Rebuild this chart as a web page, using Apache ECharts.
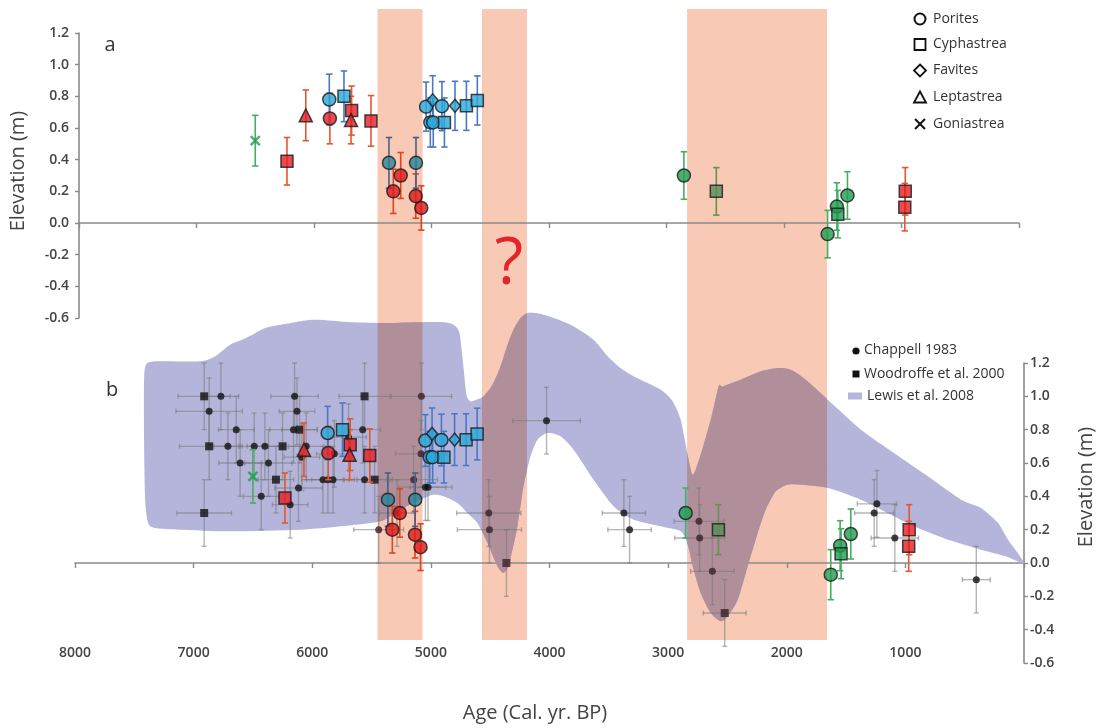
<!DOCTYPE html>
<html>
<head>
<meta charset="utf-8">
<script src="https://cdn.jsdelivr.net/npm/echarts@6/dist/echarts.min.js"></script>
<style>
  html, body { margin: 0; padding: 0; background: #ffffff; }
  #chart { width: 1099px; height: 728px; }
</style>
</head>
<body>
<div id="chart"></div>
<script>
// ---------- axis ticks ----------
const ageTicks = [8000, 7000, 6000, 5000, 4000, 3000, 2000, 1000, 0];
const elevTicks = [-0.6, -0.4, -0.2, 0.0, 0.2, 0.4, 0.6, 0.8, 1.0, 1.2];

// ---------- fossil coral microatolls (this study) ----------
const coralAge  = [6230, 6070, 5865, 5680, 5685, 5515, 5325, 5262, 5134, 5087, 968, 972,
                   5870, 5745, 5362, 5132, 5046, 4990, 5010, 4985, 4911, 4890, 4800, 4703, 4610,
                   6500, 2852, 1629, 1550, 1542, 1460,
                   2576];
const coralElev = [0.39, 0.68, 0.66, 0.71, 0.65, 0.645, 0.20, 0.30, 0.17, 0.095, 0.20, 0.10,
                   0.78, 0.80, 0.38, 0.38, 0.735, 0.775, 0.635, 0.635, 0.738, 0.635, 0.74, 0.74, 0.774,
                   0.52, 0.30, -0.07, 0.104, 0.056, 0.174,
                   0.20];
const coralErr  = [0.15, 0.16, 0.16, 0.155, 0.15, 0.16, 0.14, 0.145, 0.14, 0.14, 0.15, 0.15,
                   0.16, 0.16, 0.16, 0.16, 0.155, 0.155, 0.155, 0.155, 0.155, 0.155, 0.155, 0.155, 0.155,
                   0.16, 0.15, 0.15, 0.15, 0.15, 0.15,
                   0.15];
const coralGenus = ['Cyphastrea', 'Leptastrea', 'Porites', 'Cyphastrea', 'Leptastrea', 'Cyphastrea',
                    'Porites', 'Porites', 'Porites', 'Porites', 'Cyphastrea', 'Cyphastrea',
                    'Porites', 'Cyphastrea', 'Porites', 'Porites', 'Porites', 'Favites', 'Porites',
                    'Porites', 'Porites', 'Cyphastrea', 'Favites', 'Cyphastrea', 'Cyphastrea',
                    'Goniastrea', 'Porites', 'Porites', 'Porites', 'Cyphastrea', 'Porites',
                    'Cyphastrea'];
const coralGroup = [1, 1, 1, 1, 1, 1, 1, 1, 1, 1, 1, 1,
                    2, 2, 2, 2, 2, 2, 2, 2, 2, 2, 2, 2, 2,
                    3, 3, 3, 3, 3, 3,
                    4];

// ---------- Chappell 1983 ----------
const chAge = [6770, 6869, 6641, 6711, 6608, 6489, 6399, 6369, 6430, 6149, 6129, 6158, 6087, 6051,
               6116, 6186, 5910, 5868, 5825, 5814, 5694, 5575, 5559, 5440, 5285, 5145, 5080, 5083,
               5046, 5024, 4025, 4512, 4506, 3373, 3325, 2740, 2734, 2627, 1263, 1240, 1089, 402];
const chElev = [1.00, 0.91, 0.80, 0.70, 0.60, 0.70, 0.70, 0.60, 0.40, 1.00, 0.91, 0.80, 0.635, 0.70,
                0.45, 0.35, 0.50, 0.50, 0.50, 0.655, 0.755, 0.80, 0.50, 0.20, 0.30, 0.50, 1.00, 0.655,
                0.455, 0.455, 0.854, 0.30, 0.20, 0.30, 0.20, 0.25, 0.15, -0.05, 0.30, 0.355, 0.15, -0.10];
const chAgeErr = [150, 280, 150, 120, 180, 120, 150, 200, 150, 200, 150, 200, 150, 150,
                  200, 150, 180, 180, 180, 150, 150, 150, 180, 210, 150, 200, 255, 215,
                  225, 150, 285, 270, 270, 183, 183, 210, 210, 183, 165, 165, 200, 117];
const chElevErr = [0.2, 0.2, 0.2, 0.2, 0.2, 0.2, 0.2, 0.2, 0.2, 0.2, 0.2, 0.2, 0.2, 0.2,
                   0.2, 0.2, 0.2, 0.2, 0.2, 0.2, 0.2, 0.2, 0.2, 0.2, 0.2, 0.2, 0.2, 0.2,
                   0.2, 0.2, 0.2, 0.2, 0.2, 0.2, 0.2, 0.2, 0.2, 0.2, 0.2, 0.2, 0.2, 0.2];

// ---------- Woodroffe et al. 2000 ----------
const wdAge = [6911, 6869, 6911, 6306, 6250, 6107, 5559, 5474, 4363, 2523];
const wdElev = [1.00, 0.70, 0.30, 0.50, 0.70, 0.80, 1.00, 0.50, 0.00, -0.30];
const wdAgeErr = [220, 250, 230, 150, 150, 150, 215, 150, 0, 180];
const wdElevErr = [0.2, 0.2, 0.2, 0.2, 0.2, 0.2, 0.2, 0.2, 0.2, 0.2];

// ---------- Lewis et al. 2008 sea-level envelope ----------
const envUpperAge = [7384, 7409, 7418, 7418, 7401, 7325, 6945, 6818, 6692, 6557, 6397, 6262, 6101,
                     5966, 5671, 5375, 5089, 4894, 4810, 4759, 4726, 4700, 4667, 4616, 4557, 4481,
                     4413, 4354, 4304, 4245, 4186, 4118, 4051, 3924, 3797, 3629, 3510, 3401, 3291,
                     3063, 2962, 2894, 2844, 2793, 2726, 2641, 2574, 2540, 2388, 2219, 2076, 1966,
                     1840, 1654, 1375, 1097, 810, 530, 363, 219, 135, 0];
const envUpperElev = [0.24, 0.38, 0.74, 1.10, 1.19, 1.21, 1.21, 1.24, 1.31, 1.35, 1.41, 1.43, 1.45,
                      1.46, 1.445, 1.44, 1.445, 1.445, 1.43, 1.38, 1.18, 1.01, 0.97, 0.98, 1.00, 1.07,
                      1.18, 1.31, 1.40, 1.47, 1.50, 1.50, 1.49, 1.46, 1.42, 1.34, 1.24, 1.17, 1.12,
                      1.04, 0.97, 0.86, 0.68, 0.53, 0.65, 0.86, 1.06, 1.06, 1.10, 1.15, 1.17, 1.16,
                      1.10, 0.98, 0.80, 0.66, 0.52, 0.38, 0.33, 0.24, 0.14, 0.0];
const envLowerAge = [152, 363, 641, 928, 1097, 1375, 1654, 1882, 1992, 2093, 2177, 2245, 2329, 2413,
                     2498, 2557, 2641, 2726, 2793, 2835, 2894, 3063, 3291, 3460, 3629, 3797, 3907,
                     4017, 4101, 4160, 4219, 4270, 4312, 4346, 4388, 4439, 4523, 4608, 4692, 4776,
                     4894, 4979, 5089, 5257, 5426, 5764, 6101, 6692, 7114, 7325];
const envLowerElev = [0.04, 0.08, 0.14, 0.22, 0.28, 0.38, 0.45, 0.47, 0.47, 0.43, 0.32, 0.18, -0.02, -0.22,
                      -0.32, -0.35, -0.30, -0.18, -0.02, 0.11, 0.19, 0.22, 0.26, 0.34, 0.50, 0.68, 0.76,
                      0.78, 0.74, 0.64, 0.46, 0.22, 0.08, -0.02, -0.06, -0.02, 0.12, 0.24, 0.30, 0.36,
                      0.40, 0.41, 0.38, 0.32, 0.25, 0.22, 0.20, 0.19, 0.20, 0.21];

// ---------- shaded intervals ----------
const bandStart = [5450, 4570, 2840];
const bandEnd   = [5070, 4190, 1660];

// ---------- legend entries ----------
const genusNames = ['Porites', 'Cyphastrea', 'Favites', 'Leptastrea', 'Goniastrea'];
const recordNames = ['Chappell 1983', 'Woodroffe et al. 2000', 'Lewis et al. 2008'];

// ---------- styling ----------
const AXIS = '#8a8a8a';
const TXT = '#444444';
const FONT = "'Open Sans', 'Liberation Sans', sans-serif";
const BAND = '#f8c9b4';
const ENVELOPE = '#b5b5dc';
const groupFill = { 1: '#e31e24', 2: '#2aa7d9', 3: '#1f9c50', 4: '#5cb27f' };
const groupBar  = { 1: '#e4572e', 2: '#4a78c8', 3: '#45ae62', 4: '#6ab86e' };
const X_PATH = 'path://M0,0L10,10M10,0L0,10';
const genusSymbol = {
  Porites:    { symbol: 'circle', size: 13 },
  Cyphastrea: { symbol: 'rect', size: 12 },
  Favites:    { symbol: 'diamond', size: [11, 13] },
  Leptastrea: { symbol: 'triangle', size: 13 },
  Goniastrea: { symbol: X_PATH, size: 9 }
};

// the shaded intervals darken whatever lies under them (multiply-style tint)
function hexRgb(h) { return [1, 3, 5].map(k => parseInt(h.slice(k, k + 2), 16)); }
function tint(hex) {
  const a = hexRgb(hex), b = hexRgb(BAND);
  return '#' + a.map((c, i) => Math.round(c * b[i] / 255).toString(16).padStart(2, '0')).join('');
}
function inBand(age) {
  return bandStart.some((s, i) => age <= s && age >= bandEnd[i]);
}
const OVERLAP = tint(ENVELOPE);

// error bars (vertical, plus horizontal when an age error is given)
function errorBarSeries(ax, ages, elevs, elevErr, ageErr, colorOf, cap, width, z) {
  return {
    type: 'custom',
    xAxisIndex: ax, yAxisIndex: ax,
    z: z, silent: true, clip: false,
    encode: { x: 0, y: 1 },
    data: ages.map((a, i) => [a, elevs[i]]),
    renderItem: function (params, api) {
      const i = params.dataIndex;
      const a = api.value(0), v = api.value(1);
      const ey = elevErr[i], ex = ageErr ? ageErr[i] : 0;
      const col = colorOf(i);
      const st = () => ({ stroke: col, lineWidth: width, fill: null });
      const p = api.coord([a, v]);
      const t = api.coord([a, v + ey]);
      const b = api.coord([a, v - ey]);
      const ch = [
        { type: 'line', shape: { x1: p[0], y1: t[1], x2: p[0], y2: b[1] }, style: st() },
        { type: 'line', shape: { x1: p[0] - cap, y1: t[1], x2: p[0] + cap, y2: t[1] }, style: st() },
        { type: 'line', shape: { x1: p[0] - cap, y1: b[1], x2: p[0] + cap, y2: b[1] }, style: st() }
      ];
      if (ex) {
        const l = api.coord([a + ex, v]);
        const r = api.coord([a - ex, v]);
        ch.push({ type: 'line', shape: { x1: l[0], y1: p[1], x2: r[0], y2: p[1] }, style: st() });
        ch.push({ type: 'line', shape: { x1: l[0], y1: p[1] - cap, x2: l[0], y2: p[1] + cap }, style: st() });
        ch.push({ type: 'line', shape: { x1: r[0], y1: p[1] - cap, x2: r[0], y2: p[1] + cap }, style: st() });
      }
      return { type: 'group', children: ch };
    }
  };
}

function coralBarColour(i) {
  const c = groupBar[coralGroup[i]];
  return inBand(coralAge[i]) ? tint(c) : c;
}

function coralMarkers(ax) {
  return {
    type: 'scatter', xAxisIndex: ax, yAxisIndex: ax, z: 6, silent: true,
    data: coralAge.map((a, i) => {
      const g = genusSymbol[coralGenus[i]];
      const isX = coralGenus[i] === 'Goniastrea';
      const fill = inBand(a) ? tint(groupFill[coralGroup[i]]) : groupFill[coralGroup[i]];
      return {
        value: [a, coralElev[i]],
        symbol: g.symbol,
        symbolSize: g.size,
        itemStyle: isX
          ? { color: 'rgba(0,0,0,0)', borderColor: fill, borderWidth: 2.5 }
          : { color: fill, borderColor: '#1a1a1a', borderWidth: 1.5 }
      };
    })
  };
}

function recordMarkers(ages, elevs, symbol, size) {
  return {
    type: 'scatter', xAxisIndex: 1, yAxisIndex: 1, z: 3, silent: true,
    symbol: symbol, symbolSize: size,
    data: ages.map((a, i) => ({
      value: [a, elevs[i]],
      itemStyle: { color: inBand(a) ? '#3a2127' : '#111111' }
    }))
  };
}

// closed Hermite spline through the outline points (pixel space)
function smoothClosed(pts, steps, k) {
  const n = pts.length, out = [];
  for (let i = 0; i < n; i++) {
    const p0 = pts[(i - 1 + n) % n], p1 = pts[i], p2 = pts[(i + 1) % n], p3 = pts[(i + 2) % n];
    const m1 = [k * (p2[0] - p0[0]) / 2, k * (p2[1] - p0[1]) / 2];
    const m2 = [k * (p3[0] - p1[0]) / 2, k * (p3[1] - p1[1]) / 2];
    for (let s = 0; s < steps; s++) {
      const t = s / steps, t2 = t * t, t3 = t2 * t;
      const h00 = 2 * t3 - 3 * t2 + 1, h10 = t3 - 2 * t2 + t, h01 = -2 * t3 + 3 * t2, h11 = t3 - t2;
      out.push([
        h00 * p1[0] + h10 * m1[0] + h01 * p2[0] + h11 * m2[0],
        h00 * p1[1] + h10 * m1[1] + h01 * p2[1] + h11 * m2[1]
      ]);
    }
  }
  return out;
}
// keep the part of a polygon between two vertical lines
function clipStrip(poly, xa, xb) {
  function edge(src, inside, xv) {
    const res = [], n = src.length;
    for (let i = 0; i < n; i++) {
      const cur = src[i], prev = src[(i - 1 + n) % n];
      const cin = inside(cur), pin = inside(prev);
      const cut = () => {
        const t = (xv - prev[0]) / (cur[0] - prev[0]);
        return [xv, prev[1] + t * (cur[1] - prev[1])];
      };
      if (cin) { if (!pin) res.push(cut()); res.push(cur); }
      else if (pin) res.push(cut());
    }
    return res;
  }
  let out = edge(poly, p => p[0] >= xa, xa);
  if (out.length) out = edge(out, p => p[0] <= xb, xb);
  return out;
}

function envelopeSeries() {
  const ages = envUpperAge.concat(envLowerAge);
  const elevs = envUpperElev.concat(envLowerElev);
  return {
    type: 'custom', xAxisIndex: 1, yAxisIndex: 1, z: 1, silent: true, clip: false,
    encode: { x: 0, y: 1 },
    data: [[ages[0], elevs[0]]],
    renderItem: function (params, api) {
      const raw = ages.map((a, i) => api.coord([a, elevs[i]]));
      const pts = smoothClosed(raw, 8, 0.7);
      const children = [{ type: 'polygon', shape: { points: pts }, style: { fill: ENVELOPE } }];
      bandStart.forEach((s, i) => {
        const xa = api.coord([s, 0])[0], xb = api.coord([bandEnd[i], 0])[0];
        const part = clipStrip(pts, Math.min(xa, xb), Math.max(xa, xb));
        if (part.length > 2) children.push({ type: 'polygon', shape: { points: part }, style: { fill: OVERLAP } });
      });
      return { type: 'group', children: children };
    }
  };
}

function bandSeries() {
  return {
    type: 'custom', xAxisIndex: 2, yAxisIndex: 2, z: 0, silent: true, clip: false,
    encode: { x: [0, 1] },
    data: bandStart.map((s, i) => [s, bandEnd[i]]),
    renderItem: function (params, api) {
      const p1 = api.coord([api.value(0), 1]);
      const p2 = api.coord([api.value(1), 0]);
      return {
        type: 'rect',
        shape: { x: Math.min(p1[0], p2[0]), y: p1[1], width: Math.abs(p2[0] - p1[0]), height: p2[1] - p1[1] },
        style: { fill: BAND }
      };
    }
  };
}

const ageMin = Math.min.apply(null, ageTicks), ageMax = Math.max.apply(null, ageTicks);
const elevMin = Math.min.apply(null, elevTicks), elevMax = Math.max.apply(null, elevTicks);
const elevStep = 0.2, ageStep = 1000;

function ageAxis(grid, showLine, showLabel) {
  return {
    type: 'value', gridIndex: grid, inverse: true,
    min: ageMin, max: ageMax, interval: ageStep,
    axisLine: { show: showLine, onZero: true, lineStyle: { color: AXIS, width: 1.6 } },
    axisTick: { show: showLine, inside: false, length: 5, lineStyle: { color: AXIS, width: 1.4 } },
    axisLabel: {
      show: showLabel, margin: 6, color: TXT, fontSize: 14, fontWeight: 600, fontFamily: FONT,
      formatter: v => (v === 0 ? '' : String(v))
    },
    splitLine: { show: false }
  };
}
function elevAxis(grid, pos) {
  return {
    type: 'value', gridIndex: grid, position: pos,
    min: elevMin, max: elevMax, interval: elevStep,
    axisLine: { show: true, onZero: false, lineStyle: { color: AXIS, width: 1.6 } },
    axisTick: { show: true, inside: false, length: 4, lineStyle: { color: AXIS, width: 1.4 } },
    axisLabel: {
      margin: pos === 'left' ? 10 : 6, color: TXT, fontSize: 14, fontWeight: 600, fontFamily: FONT,
      formatter: v => v.toFixed(1)
    },
    splitLine: { show: false }
  };
}

// legend glyphs and free text
const legendA = genusNames.map((n, i) => {
  const y = [19, 44.5, 70.5, 97.5, 124][i];
  const shapes = [
    { type: 'circle', shape: { cx: 920, cy: y, r: 5.5 }, style: { fill: 'none', stroke: '#111', lineWidth: 2 } },
    { type: 'rect', shape: { x: 914.5, y: y - 5.5, width: 11, height: 11 }, style: { fill: 'none', stroke: '#111', lineWidth: 1.8 } },
    { type: 'polygon', shape: { points: [[920, y - 6], [926, y], [920, y + 6], [914, y]] }, style: { fill: 'none', stroke: '#111', lineWidth: 1.8 } },
    { type: 'polygon', shape: { points: [[920, y - 6], [926, y + 5], [914, y + 5]] }, style: { fill: 'none', stroke: '#111', lineWidth: 1.8 } },
    { type: 'polyline', shape: { points: [[915, y - 5], [925, y + 5]] }, style: { stroke: '#111', lineWidth: 2 } }
  ];
  const g = [shapes[i]];
  if (i === 4) g.push({ type: 'polyline', shape: { points: [[925, y - 5], [915, y + 5]] }, style: { stroke: '#111', lineWidth: 2 } });
  g.push({ type: 'text', x: 933, y: y, style: { text: n, fill: '#333', font: '14px ' + FONT, textVerticalAlign: 'middle', verticalAlign: 'middle' } });
  return g;
}).flat();

const legendB = [
  { type: 'circle', shape: { cx: 856, cy: 351, r: 3.6 }, style: { fill: '#111' } },
  { type: 'rect', shape: { x: 852.5, y: 370.5, width: 7, height: 7 }, style: { fill: '#111' } },
  { type: 'rect', shape: { x: 848, y: 392.5, width: 14, height: 7 }, style: { fill: ENVELOPE } }
].concat(recordNames.map((n, i) => ({
  type: 'text', x: [864, 864, 867][i], y: [350.5, 374, 396][i],
  style: { text: n, fill: '#333', font: '14px ' + FONT, verticalAlign: 'middle', textVerticalAlign: 'middle' }
})));

const centred = { align: 'center', verticalAlign: 'middle', textAlign: 'center', textVerticalAlign: 'middle' };
const freeText = [
  { type: 'text', x: 110, y: 45, style: Object.assign({ text: 'a', fill: '#333', font: '20px ' + FONT }, centred) },
  { type: 'text', x: 112, y: 390, style: Object.assign({ text: 'b', fill: '#333', font: '20px ' + FONT }, centred) },
  { type: 'text', x: 18, y: 171, rotation: Math.PI / 2, style: Object.assign({ text: 'Elevation (m)', fill: TXT, font: '20px ' + FONT }, centred) },
  { type: 'text', x: 1086, y: 487, rotation: Math.PI / 2, style: Object.assign({ text: 'Elevation (m)', fill: TXT, font: '20px ' + FONT }, centred) },
  { type: 'text', x: 535, y: 713, style: Object.assign({ text: 'Age (Cal. yr. BP)', fill: TXT, font: '20px ' + FONT }, centred) },
  { type: 'text', x: 509, y: 265, z: 100, style: Object.assign({ text: '?', fill: '#e0262a', font: '66px ' + FONT }, centred) }
];

const chart = echarts.init(document.getElementById('chart'), null, { renderer: 'canvas' });
chart.setOption({
  animation: false,
  backgroundColor: '#ffffff',
  grid: [
    { left: 79, right: 80, top: 33, height: 285, outerBoundsMode: 'none' },
    { left: 75, right: 75, top: 363, height: 300, outerBoundsMode: 'none' },
    { left: 75, right: 75, top: 9, bottom: 88, outerBoundsMode: 'none' }
  ],
  xAxis: [
    ageAxis(0, true, false),
    ageAxis(1, true, false),
    ageAxis(2, false, true)
  ],
  yAxis: [
    elevAxis(0, 'left'),
    elevAxis(1, 'right'),
    { type: 'value', gridIndex: 2, min: 0, max: 1, show: false }
  ],
  graphic: { elements: legendA.concat(legendB).concat(freeText) },
  series: [
    bandSeries(),
    envelopeSeries(),
    // panel a: corals
    errorBarSeries(0, coralAge, coralElev, coralErr, null, coralBarColour, 3.2, 1.6, 4),
    coralMarkers(0),
    // panel b: published records
    errorBarSeries(1, chAge, chElev, chElevErr, chAgeErr, () => 'rgba(120,120,120,0.55)', 2.5, 1.4, 2),
    errorBarSeries(1, wdAge, wdElev, wdElevErr, wdAgeErr, () => 'rgba(120,120,120,0.55)', 2.5, 1.4, 2),
    recordMarkers(chAge, chElev, 'circle', 7),
    recordMarkers(wdAge, wdElev, 'rect', 8),
    // panel b: corals on top of the published records
    errorBarSeries(1, coralAge, coralElev, coralErr, null, coralBarColour, 3.2, 1.6, 4),
    coralMarkers(1)
  ]
});
</script>
</body>
</html>
